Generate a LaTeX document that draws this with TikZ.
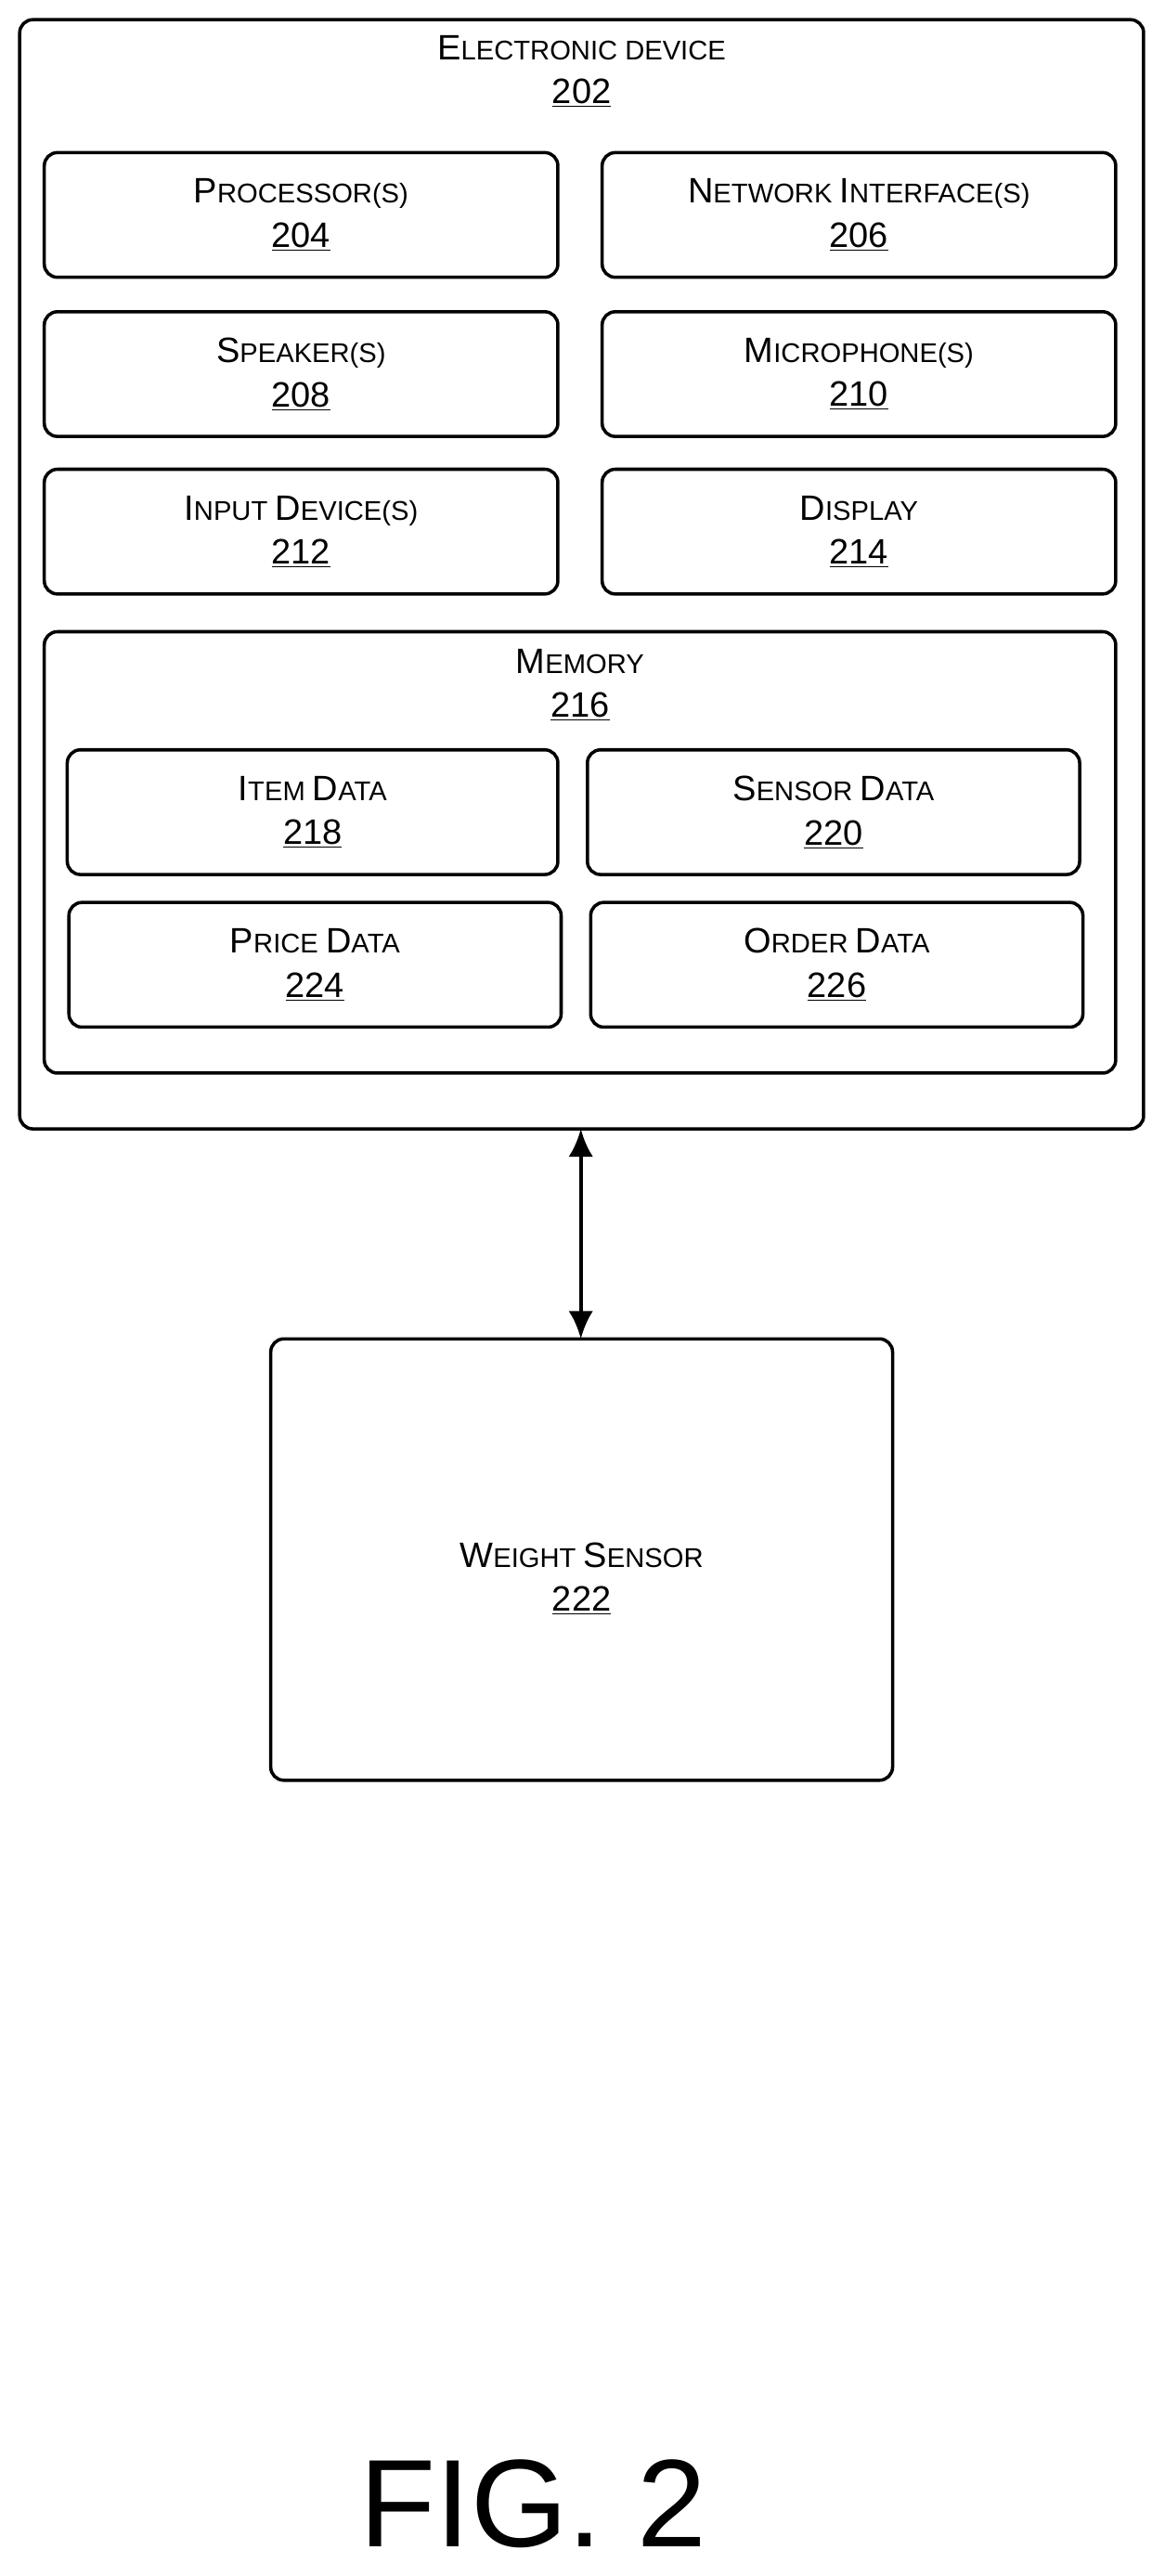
\documentclass[tikz,border=0pt]{standalone}
\usepackage{fontspec}
\setmainfont{Liberation Sans}
\usetikzlibrary{arrows.meta}
\newcommand\bc[1]{{\fontsize{21.5}{24}\selectfont #1}}
\newcommand\num[1]{{\fontsize{21.5}{24}\selectfont\underline{#1}}}
\begin{document}
\begin{tikzpicture}[x=1pt,y=-1pt,
  box/.style={draw,line width=2pt,rounded corners=8pt},
  lbl/.style={align=center,font=\fontsize{16.5}{27}\selectfont}]
\useasboundingbox (0,0) rectangle (710,1570);
\newcommand\bx[6]{\draw[box] (#2,#3) rectangle (#4,#5); \node[lbl] (#1) at ({(#2+#4)/2},{(#3+#5)/2}) {#6};}
\draw[box] (12,12) rectangle (697,688);
\node[lbl,anchor=north] (ed) at (354.5,18) {\bc{E}LECTRONIC DEVICE\\\num{202}};
\bx{p}{27}{93}{340}{169}{\bc{P}ROCESSOR(S)\\\num{204}}
\bx{n}{367}{93}{680}{169}{\bc{N}ETWORK \bc{I}NTERFACE(S)\\\num{206}}
\bx{s}{27}{190}{340}{266}{\bc{S}PEAKER(S)\\\num{208}}
\bx{m}{367}{190}{680}{266}{\bc{M}ICROPHONE(S)\\\num{210}}
\bx{i}{27}{286}{340}{362}{\bc{I}NPUT \bc{D}EVICE(S)\\\num{212}}
\bx{d}{367}{286}{680}{362}{\bc{D}ISPLAY\\\num{214}}
\draw[box] (27,385) rectangle (680,654);
\node[lbl,anchor=north] (mem) at (353.5,392) {\bc{M}EMORY\\\num{216}};
\bx{it}{41}{457}{340}{533}{\bc{I}TEM \bc{D}ATA\\\num{218}}
\bx{sd}{358}{457}{658}{533}{\bc{S}ENSOR \bc{D}ATA\\\num{220}}
\bx{pd}{42}{550}{342}{626}{\bc{P}RICE \bc{D}ATA\\\num{224}}
\bx{od}{360}{550}{660}{626}{\bc{O}RDER \bc{D}ATA\\\num{226}}
\draw[box] (165,816) rectangle (544,1085);
\node[lbl] (w) at (354.5,962) {\bc{W}EIGHT \bc{S}ENSOR\\\num{222}};
\coordinate (a) at (354,688);
\coordinate (b) at (354,816);
\draw[line width=2.5pt,{Latex[length=17pt,width=15pt]}-{Latex[length=17pt,width=15pt]}] (a) -- (b);
\node[font=\fontsize{76}{80}\selectfont] (fig) at (325,1526) {FIG. 2};
\end{tikzpicture}
\end{document}
